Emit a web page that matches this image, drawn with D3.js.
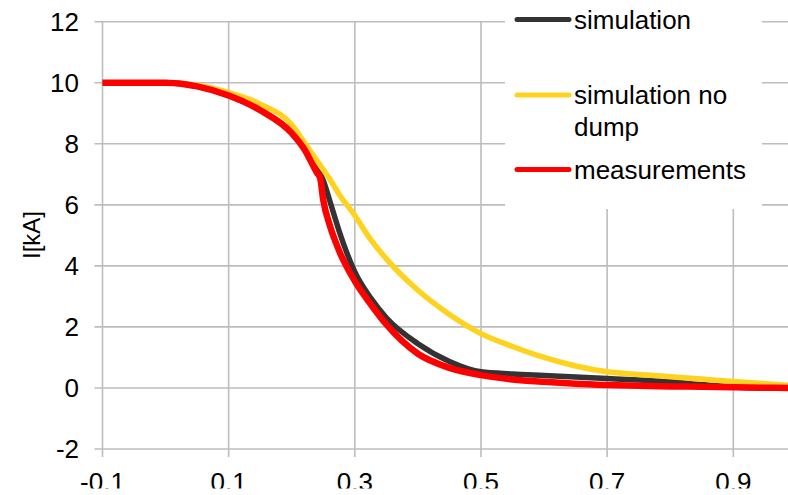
<!DOCTYPE html>
<html>
<head>
<meta charset="utf-8">
<script src="https://cdn.jsdelivr.net/npm/d3@7"></script>
<style>
  body { margin: 0; background: #fff; }
  svg { display: block; font-family: "Liberation Sans", Arial, sans-serif; }
</style>
</head>
<body>
<svg width="788" height="495"></svg>
<script>
// time [s] shared by all three curves
var times = [-0.1, -0.05, 0, 0.03, 0.05, 0.1, 0.15, 0.2, 0.22, 0.24, 0.245, 0.25, 0.26, 0.275, 0.3,
  0.325, 0.35, 0.4, 0.45, 0.5, 0.55, 0.6, 0.65, 0.7, 0.75, 0.8, 0.85, 0.9, 0.95, 0.99];

// current I [kA]
var simulation = [10, 10, 10, 9.95, 9.88, 9.58, 9.1, 8.35, 7.84, 7.22, 7.02, 6.8, 6.15, 5.15, 3.8,
  2.95, 2.3, 1.45, 0.87, 0.53, 0.46, 0.41, 0.36, 0.31, 0.26, 0.2, 0.11, 0.03, 0, 0];
var simulationNoDump = [10, 10, 10, 9.97, 9.92, 9.68, 9.3, 8.62, 8.04, 7.45, 7.3, 7.15, 6.85, 6.35, 5.65,
  4.87, 4.23, 3.2, 2.41, 1.78, 1.36, 1.0, 0.72, 0.53, 0.44, 0.37, 0.29, 0.21, 0.14, 0.08];
var measurements = [10, 10, 10, 9.95, 9.88, 9.58, 9.1, 8.35, 7.82, 7.05, 6.88, 6.15, 5.35, 4.5, 3.5,
  2.75, 2.08, 1.12, 0.66, 0.42, 0.28, 0.2, 0.14, 0.1, 0.07, 0.05, 0.04, 0.02, 0.01, 0];

var xTicks = [-0.1, 0.1, 0.3, 0.5, 0.7, 0.9];
var yTicks = [-2, 0, 2, 4, 6, 8, 10, 12];

var series = [
  {name: "simulation", values: simulation, color: "#333333", width: 5.5},
  {name: "simulation no dump", values: simulationNoDump, color: "#FFD21F", width: 5.5},
  {name: "measurements", values: measurements, color: "#FF0000", width: 6.5}
];

var svg = d3.select("svg"),
  width = +svg.attr("width"),
  height = +svg.attr("height"),
  x = d3.scaleLinear().domain([-0.1, 0.9]).range([102.5, 733.3]),
  y = d3.scaleLinear().domain([-2, 12]).range([449, 21.7]);

// gridlines (they also act as the axes)
var grid = svg.append("g").attr("stroke", "#bdbdbd").attr("stroke-width", 1.6);
grid.selectAll(".h").data(yTicks).enter().append("line")
  .attr("x1", x(-0.1) - 8).attr("x2", width)
  .attr("y1", function(d) { return y(d); })
  .attr("y2", function(d) { return y(d); });
grid.selectAll(".v").data(xTicks).enter().append("line")
  .attr("y1", y(12)).attr("y2", y(-2) + 8)
  .attr("x1", function(d) { return x(d); })
  .attr("x2", function(d) { return x(d); });

// tick labels
svg.append("g").selectAll("text").data(yTicks).enter().append("text")
  .attr("x", 79)
  .attr("y", function(d) { return y(d); })
  .attr("dy", "0.36em")
  .attr("text-anchor", "end")
  .attr("font-size", 26)
  .text(function(d) { return d; });
svg.append("g").selectAll("text").data(xTicks).enter().append("text")
  .attr("x", function(d) { return x(d); })
  .attr("y", 490.5)
  .attr("text-anchor", "middle")
  .attr("font-size", 26)
  .text(function(d) { return d; });
// the original picture is cropped just under the x labels
svg.append("rect")
  .attr("x", 0).attr("y", 488.5).attr("width", width).attr("height", height - 488.5)
  .attr("fill", "#fff");

svg.append("text")
  .attr("transform", "translate(40,235) rotate(-90)")
  .attr("text-anchor", "middle")
  .attr("font-size", 24)
  .text("I[kA]");

// curves, black at the bottom, red on top
var line = d3.line()
  .x(function(d, i) { return x(times[i]); })
  .y(function(d) { return y(d); })
  .curve(d3.curveMonotoneX);

svg.append("g").selectAll("path").data(series).enter().append("path")
  .attr("fill", "none")
  .attr("stroke", function(d) { return d.color; })
  .attr("stroke-width", function(d) { return d.width; })
  .attr("stroke-linejoin", "round")
  .attr("d", function(d) { return line(d.values); });

// legend
var legend = svg.append("g");
legend.append("rect")
  .attr("x", 505).attr("y", 0).attr("width", 257).attr("height", 209)
  .attr("fill", "#fff");
var rows = [
  {s: series[0], y: 19.5, lines: ["simulation"]},
  {s: series[1], y: 95, lines: ["simulation no", "dump"]},
  {s: series[2], y: 169.5, lines: ["measurements"]}
];
rows.forEach(function(r) {
  legend.append("line")
    .attr("x1", 517).attr("x2", 569)
    .attr("y1", r.y).attr("y2", r.y)
    .attr("stroke", r.s.color)
    .attr("stroke-width", 5)
    .attr("stroke-linecap", "round");
  r.lines.forEach(function(t, k) {
    legend.append("text")
      .attr("x", 574)
      .attr("y", r.y + k * 31.5)
      .attr("dy", "0.36em")
      .attr("font-size", 26)
      .text(t);
  });
});
</script>
</body>
</html>
